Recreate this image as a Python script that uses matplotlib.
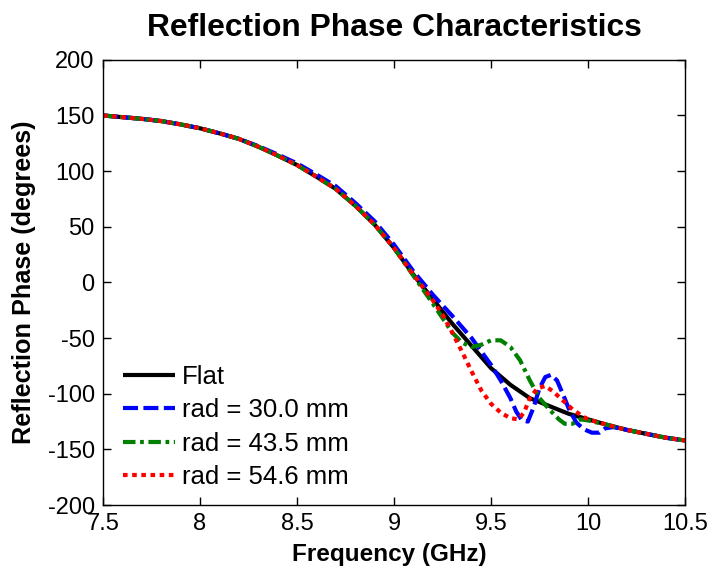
import matplotlib
matplotlib.use("Agg")
import matplotlib.pyplot as plt

plt.rcParams['font.family'] = ['Liberation Sans', 'DejaVu Sans']
plt.rcParams['axes.unicode_minus'] = False

# Flat reference
freq_flat = [7.5, 7.6, 7.7, 7.8, 7.9, 8.0, 8.1, 8.2, 8.3, 8.4, 8.5, 8.6, 8.7, 8.8, 8.9,
             9.0, 9.1, 9.2, 9.3, 9.4, 9.5, 9.6, 9.7, 9.8, 9.9, 10.0, 10.1, 10.2, 10.3, 10.4, 10.5]
phase_flat = [150, 148.5, 147, 145, 142, 138.5, 134, 129, 122, 114, 105.5, 95, 84, 69, 52,
              31, 7, -15, -37, -57, -77, -92, -104, -111, -118, -123, -128, -132.5, -136, -139.5, -142]

# rad = 30.0 mm
freq_r30 = [7.5, 7.6, 7.7, 7.8, 7.9, 8.0, 8.1, 8.2, 8.3, 8.4, 8.5, 8.6, 8.7, 8.8, 8.9,
            9.0, 9.1, 9.2, 9.3, 9.4, 9.45, 9.5, 9.55, 9.6, 9.63, 9.66, 9.69, 9.72, 9.75, 9.78,
            9.81, 9.84, 9.87, 9.9, 9.94, 9.98, 10.02, 10.06, 10.09, 10.13, 10.2, 10.3, 10.4, 10.5]
phase_r30 = [150, 148.5, 147, 145, 142, 138.5, 134, 129, 122.5, 115, 107, 97, 86.5, 71.5, 55,
             34, 10, -11, -30, -50, -62, -74, -88, -104, -116, -124, -125, -112, -95, -85,
             -83, -88, -100, -113, -126, -132, -135, -135, -131, -130, -132.5, -136, -139.5, -142]

# rad = 43.5 mm
freq_r43 = [7.5, 7.6, 7.7, 7.8, 7.9, 8.0, 8.1, 8.2, 8.3, 8.4, 8.5, 8.6, 8.7, 8.8, 8.9,
            9.0, 9.1, 9.2, 9.25, 9.3, 9.35, 9.4, 9.45, 9.5, 9.55, 9.6, 9.65, 9.7, 9.75, 9.8,
            9.85, 9.88, 9.92, 9.96, 10.0, 10.1, 10.2, 10.3, 10.4, 10.5]
phase_r43 = [150, 148.5, 147, 145, 142, 138.5, 134, 129, 122, 114, 105.5, 95, 84, 69, 52,
             31, 6, -19, -32, -45, -54, -58, -56, -52, -52, -58, -70, -88, -104, -114,
             -123, -127, -127, -123, -124, -128, -132.5, -136, -139.5, -142]

# rad = 54.6 mm
freq_r54 = [7.5, 7.6, 7.7, 7.8, 7.9, 8.0, 8.1, 8.2, 8.3, 8.4, 8.5, 8.6, 8.7, 8.8, 8.9,
            9.0, 9.1, 9.2, 9.25, 9.3, 9.35, 9.4, 9.45, 9.5, 9.55, 9.6, 9.64, 9.67, 9.7, 9.74,
            9.78, 9.82, 9.87, 9.92, 9.97, 10.0, 10.1, 10.2, 10.3, 10.4, 10.5]
phase_r54 = [150, 148.5, 147, 145, 142, 138.5, 134, 129, 122, 114, 105.5, 95, 84, 69, 52,
             31, 7, -16, -29, -45, -62, -80, -97, -109, -117, -122, -123, -117, -104, -95,
             -93, -98, -106, -114, -120, -123, -128, -132.5, -136, -139.5, -142]

labels = ["Flat", "rad = 30.0 mm", "rad = 43.5 mm", "rad = 54.6 mm"]
x_ticks = [7.5, 8, 8.5, 9, 9.5, 10, 10.5]
x_ticklabels = ["7.5", "8", "8.5", "9", "9.5", "10", "10.5"]
y_ticks = [200, 150, 100, 50, 0, -50, -100, -150, -200]

fig = plt.figure(figsize=(7.08, 5.70), dpi=100)
ax = fig.add_axes([0.1455, 0.114, 0.822, 0.781])

lw = 3.0
ax.plot(freq_flat, phase_flat, color='black', lw=lw, label=labels[0], solid_capstyle='butt')
ax.plot(freq_r30, phase_r30, color='#0000ff', lw=lw, dashes=(3.6, 1.3), label=labels[1])
ax.plot(freq_r43, phase_r43, color='#008000', lw=lw, dashes=(3.0, 1.1, 0.9, 1.1), label=labels[2])
ax.plot(freq_r54, phase_r54, color='#ff0000', lw=lw, dashes=(1.1, 1.1), label=labels[3])

ax.set_xlim(7.5, 10.5)
ax.set_ylim(-200, 200)
ax.set_xticks(x_ticks)
ax.set_xticklabels(x_ticklabels)
ax.set_yticks(y_ticks)
ax.tick_params(direction='in', length=6, width=1, top=True, right=True, labelsize=17, pad=6)
for s in ax.spines.values():
    s.set_linewidth(1.0)

ax.set_title("Reflection Phase Characteristics", fontsize=22.9, fontweight='bold', pad=17)
ax.set_xlabel("Frequency (GHz)", fontsize=17.5, fontweight='bold', labelpad=3)
ax.xaxis.set_label_coords(0.492, -0.085)
ax.set_ylabel("Reflection Phase (degrees)", fontsize=18.2, fontweight='bold', labelpad=8)

leg = ax.legend(loc='lower left', bbox_to_anchor=(0.017, 0.012), frameon=False, fontsize=18.5,
                handlelength=2.0, handletextpad=0.28, labelspacing=0.37, borderaxespad=0.0)

fig.savefig("out.png", dpi=100, facecolor='white')
